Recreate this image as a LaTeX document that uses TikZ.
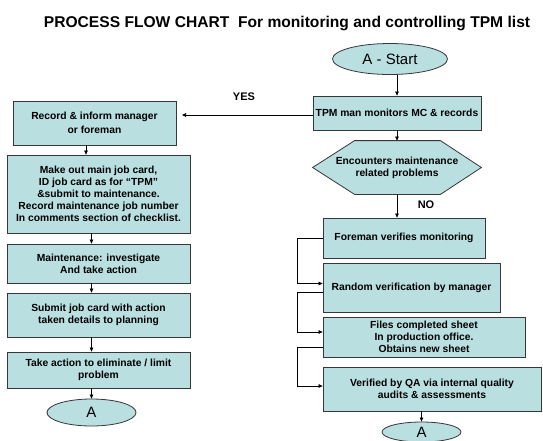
\documentclass[tikz,border=0pt]{standalone}
\usepackage{fontspec}
\setmainfont{Liberation Sans}
\usetikzlibrary{arrows.meta,calc}
\definecolor{boxfill}{RGB}{185,223,225}
\definecolor{boxline}{RGB}{55,55,55}
\tikzset{
  procbox/.style={draw=boxline, fill=boxfill, line width=0.8pt, align=center, inner sep=1pt,
    font=\bfseries\fontsize{10.3}{12}\selectfont},
  termin/.style={ellipse, draw=boxline, fill=boxfill, line width=0.8pt, inner sep=0pt,
    font=\fontsize{15}{16}\selectfont},
  conn/.style={draw=black, line width=0.7pt, -{Triangle[length=4pt,width=3.6pt]}},
  lbl/.style={font=\bfseries\fontsize{11}{12}\selectfont, inner sep=0pt},
}
\usetikzlibrary{shapes.geometric}
\begin{document}
\begin{tikzpicture}[x=1pt,y=-1pt]
\useasboundingbox[fill=white] (0,0) rectangle (543,440);
\node[font=\bfseries\fontsize{15.6}{17}\selectfont, inner sep=0pt] (title) at (287,23) {PROCESS FLOW CHART\ \ For monitoring and controlling TPM list};
% right column
\node[termin, minimum width=115pt, minimum height=31pt] (start) at (390,59) {A - Start};
\node[procbox, minimum width=168pt, minimum height=34pt] (tpm) at (397,113) {TPM man monitors MC \& records};
\node[procbox, draw=none, fill=none, minimum width=168pt, minimum height=53pt] (hex) at (397,167.5) {};
\path[draw=boxline, fill=boxfill, line width=0.8pt] (hex.west) -- ([xshift=42pt]hex.north west) -- ([xshift=-41pt]hex.north east) -- (hex.east) -- ([xshift=-41pt]hex.south east) -- ([xshift=42pt]hex.south west) -- cycle;
\node[procbox, draw=none, fill=none] (hextext) at (hex.center) {Encounters maintenance\\related problems};
\node[procbox, minimum width=162pt, minimum height=40pt] (foreman) at (404,238) {Foreman verifies monitoring};
\node[procbox, minimum width=177pt, minimum height=49pt] (random) at (411.5,287.5) {Random verification by manager};
\node[procbox, minimum width=202pt, minimum height=40pt] (files) at (424,337) {Files completed sheet\\In production office.\\Obtains new sheet};
\node[procbox, minimum width=218pt, minimum height=44pt] (qa) at (432,389) {Verified by QA via internal quality\\audits \& assessments};
\node[termin, minimum width=79pt, minimum height=20pt] (endR) at (421.5,432) {A};
% left column
\node[procbox, minimum width=163pt, minimum height=44pt, font=\bfseries\fontsize{10.3}{14}\selectfont] (record) at (94.5,123) {Record \& inform manager\\or foreman};
\node[procbox, minimum width=183pt, minimum height=78pt] (make) at (98.5,194) {Make out main job card,\\ID job card as for “TPM”\\\&submit to maintenance.\\Record maintenance job number\\In comments section of checklist.};
\node[procbox, minimum width=183pt, minimum height=39pt] (maint) at (98.5,263.5) {Maintenance: investigate\\And take action};
\node[procbox, minimum width=183pt, minimum height=44pt] (submit) at (98.5,315) {Submit job card with action\\taken details to planning};
\node[procbox, minimum width=183pt, minimum height=36pt] (take) at (98.5,370) {Take action to eliminate / limit\\problem};
\node[termin, minimum width=89pt, minimum height=27pt] (endL) at (91.5,412.5) {A};
% labels
\node[lbl] (yes) at (244,97) {YES};
\node[lbl] (no) at (426,205) {NO};
\coordinate (yesend) at (182,115);
% connectors
\draw[conn] (start.south -| tpm.north) -- (tpm.north);
\draw[conn] (tpm.west |- yesend) -- (yesend);
\draw[conn] (tpm.south) -- (hex.north);
\draw[conn] (hex.south) -- (hex.south |- foreman.north);
\draw[conn] (foreman.west) -- ++(-25,0) |- ([yshift=4pt]random.west);
\draw[conn] ([yshift=-5pt]random.west) -- ++(-25,0) |- ([yshift=5pt]files.west);
\draw[conn] ([yshift=-10pt]files.west) -- ++(-25,0) |- ([yshift=3pt]qa.west);
\draw[conn] (qa.south -| endR.north) -- (endR.north);
\draw[conn] ([xshift=-8.5pt]record.south) -- ([xshift=-8.5pt]record.south |- make.north);
\draw[conn] (make.south -| endL.north) -- (maint.north -| endL.north);
\draw[conn] (maint.south -| endL.north) -- (submit.north -| endL.north);
\draw[conn] (submit.south -| endL.north) -- (take.north -| endL.north);
\draw[conn] (take.south -| endL.north) -- (endL.north);
\end{tikzpicture}
\end{document}
